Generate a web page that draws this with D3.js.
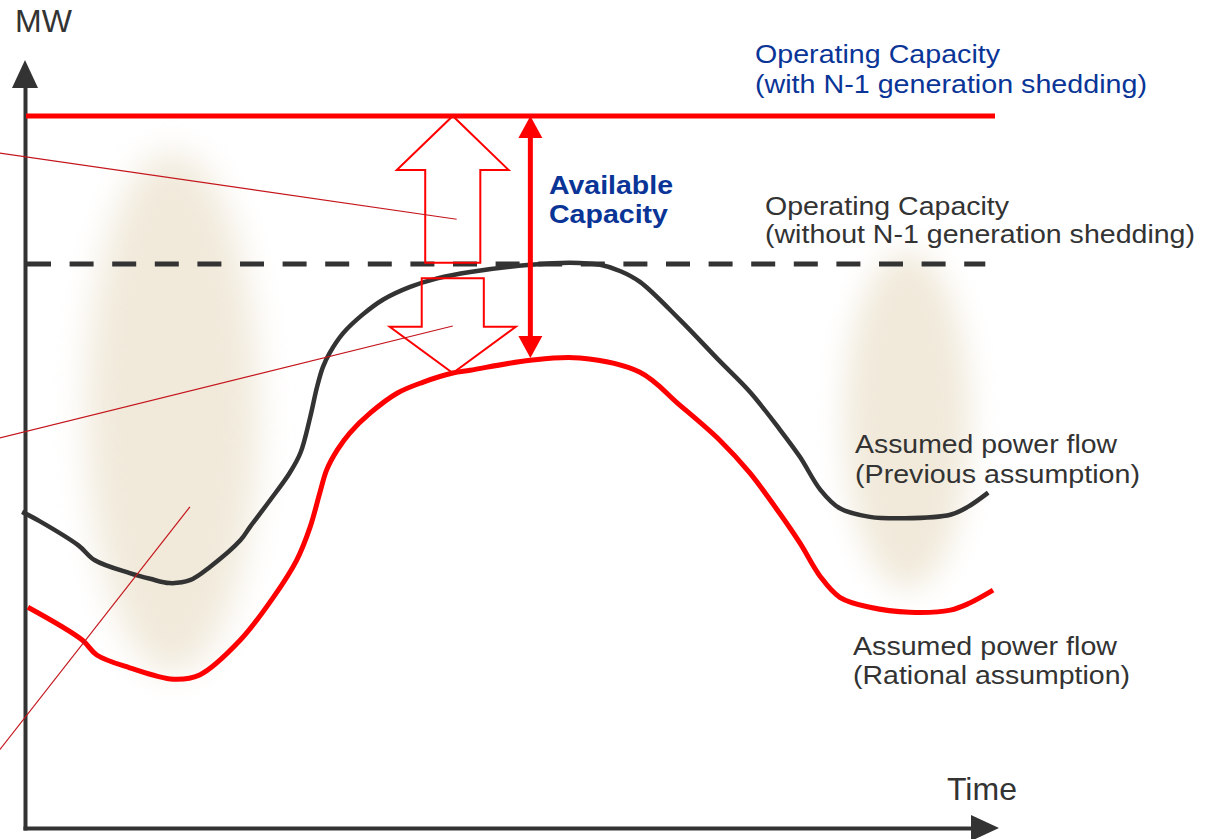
<!DOCTYPE html>
<html>
<head>
<meta charset="utf-8">
<script src="https://cdn.jsdelivr.net/npm/d3@7"></script>
<style>
  html, body { margin: 0; padding: 0; background: #fff; }
  svg { display: block; font-family: "Liberation Sans", Arial, sans-serif; }
</style>
</head>
<body>
<svg id="chart" width="1215" height="839"></svg>
<script>
// ---------------- DATA (time units 0..100, MW units 0..100) ----------------
const capacityWithN1 = 100;     // Operating capacity (with N-1 generation shedding)
const capacityWithoutN1 = 79.2; // Operating capacity (without N-1 generation shedding)

// Assumed power flow (Previous assumption)
const prevTime = [-0.3, 1.5, 5.5, 7.2, 10.8, 12.9, 14.9, 17.0, 19.1, 22.2, 23.2, 25.3, 27.3, 28.4, 29.4, 30.1, 30.7, 31.4, 32.8, 34.8, 36.9, 39.7, 42.5, 45.9, 52.1, 56.2, 59.3, 61.4, 63.4, 67.5, 71.6, 74.7, 77.8, 79.9, 82.0, 84.0, 87.1, 90.7, 95.4, 97.2, 99.3];
const prevMW   = [44.4, 43.1, 39.7, 37.6, 35.8, 35.0, 34.4, 34.8, 36.7, 40.4, 42.3, 46.1, 49.9, 52.7, 57.7, 61.9, 64.7, 66.7, 69.5, 72.1, 74.2, 76.0, 77.2, 78.1, 79.1, 79.4, 79.1, 78.2, 76.7, 71.4, 65.6, 61.3, 56.0, 52.1, 47.5, 44.9, 43.7, 43.5, 44.0, 45.1, 47.1];

// Assumed power flow (Rational assumption)
const ratTime = [0.3, 5.9, 7.4, 10.8, 15.3, 18.0, 22.2, 25.6, 28.0, 29.4, 30.4, 31.1, 32.2, 33.5, 35.6, 38.4, 41.0, 44.1, 45.9, 52.1, 57.2, 63.4, 67.5, 71.6, 74.7, 77.8, 79.9, 82.0, 84.0, 87.1, 91.2, 95.4, 97.4, 99.8];
const ratMW   = [31.0, 26.4, 24.3, 22.5, 20.9, 21.5, 26.4, 32.4, 37.6, 42.3, 47.1, 50.3, 53.1, 55.5, 58.3, 61.1, 62.6, 63.9, 64.3, 65.7, 66.0, 64.0, 59.4, 54.5, 49.9, 44.2, 40.0, 35.3, 32.4, 31.0, 30.3, 30.6, 31.6, 33.4];

// Shaded (low-load) periods: time start/end, MW low/high
const shadeStart = [5.7, 84.0];
const shadeEnd   = [24.7, 97.9];
const shadeLow   = [19.4, 32.0];
const shadeHigh  = [97.3, 82.6];

// Leader lines (from off-chart labels): start/end in time & MW
const leaderT0 = [-2.6, -2.6, -2.6];
const leaderM0 = [94.8, 54.8, 11.0];
const leaderT1 = [44.5, 44.1, 17.0];
const leaderM1 = [85.5, 70.5, 45.1];

// Hollow arrows: centre time, base MW, head-base MW, tip MW, shaft half-width, head half-width (time units)
const arrowCenter   = [44.1, 44.1];
const arrowBase     = [79.4, 77.2];
const arrowHeadBase = [92.4, 70.4];
const arrowTip      = [100.0, 63.9];
const arrowShaftHW  = [2.84, 3.2];
const arrowHeadHW   = [5.77, 6.5];

// Available capacity double arrow
const availTime = 52.1;
const availTop = 100;
const availBottom = 66.0;

// Text labels
const axisYLabel = "MW";
const axisXLabel = "Time";
const labelN1 = ["Operating Capacity", "(with N-1 generation shedding)"];
const labelNoN1 = ["Operating Capacity", "(without N-1 generation shedding)"];
const labelAvail = ["Available", "Capacity"];
const labelPrev = ["Assumed power flow", "(Previous assumption)"];
const labelRat = ["Assumed power flow", "(Rational assumption)"];

// ---------------- DRAWING ----------------
const svg = d3.select("#chart");
const x = d3.scaleLinear().domain([0, 100]).range([25, 995]);
const y = d3.scaleLinear().domain([0, 100]).range([828, 116]);

const defs = svg.append("defs");
[["blurL", 17], ["blurR", 15]].forEach(([id, sd]) => {
  defs.append("filter").attr("id", id).attr("x", "-50%").attr("y", "-50%").attr("width", "200%").attr("height", "200%")
    .attr("color-interpolation-filters", "sRGB")
    .append("feGaussianBlur").attr("stdDeviation", sd);
});

// shaded blobs
shadeStart.forEach((s, i) => {
  const cx = (x(s) + x(shadeEnd[i])) / 2;
  const cy = (y(shadeLow[i]) + y(shadeHigh[i])) / 2;
  const rx = (x(shadeEnd[i]) - x(s)) / 2;
  const ry = (y(shadeLow[i]) - y(shadeHigh[i])) / 2;
  svg.append("ellipse")
    .attr("cx", cx).attr("cy", cy)
    .attr("rx", rx * 0.93).attr("ry", ry * 0.94)
    .attr("fill", "#f1eadb")
    .attr("filter", i === 0 ? "url(#blurL)" : "url(#blurR)");
});

// axes (drawn with d3 axis generators, no ticks)
const xAxisScale = x.copy().range([25, 972]);
const yAxisScale = y.copy().range([828, 87]);
const gx = svg.append("g").attr("transform", `translate(0,${828})`)
  .call(d3.axisBottom(xAxisScale).tickValues([]).tickSizeOuter(0));
const gy = svg.append("g").attr("transform", `translate(${25},0)`)
  .call(d3.axisLeft(yAxisScale).tickValues([]).tickSizeOuter(0));
[gx, gy].forEach(g => g.select(".domain").attr("stroke", "#333").attr("stroke-width", 4).attr("stroke-linecap", "square"));
// arrowheads
svg.append("polygon").attr("fill", "#333")
  .attr("points", `${25},${60} ${12},${88} ${38},${88}`);
svg.append("polygon").attr("fill", "#333")
  .attr("points", `${999},${828} ${971},${815} ${971},${841}`);

// capacity lines
svg.append("line")
  .attr("x1", x(0) + 1).attr("x2", x(100))
  .attr("y1", y(capacityWithN1)).attr("y2", y(capacityWithN1))
  .attr("stroke", "#ff0000").attr("stroke-width", 5);
svg.append("line")
  .attr("x1", x(0) + 2).attr("x2", x(99))
  .attr("y1", y(capacityWithoutN1)).attr("y2", y(capacityWithoutN1))
  .attr("stroke", "#333").attr("stroke-width", 5)
  .attr("stroke-dasharray", "24,18.6");

// curves
const line = d3.line().x(d => x(d[0])).y(d => y(d[1])).curve(d3.curveCatmullRom.alpha(0.5));
svg.append("path").datum(prevTime.map((t, i) => [t, prevMW[i]]))
  .attr("d", line).attr("fill", "none").attr("stroke", "#333").attr("stroke-width", 4.5);
svg.append("path").datum(ratTime.map((t, i) => [t, ratMW[i]]))
  .attr("d", line).attr("fill", "none").attr("stroke", "#ff0000").attr("stroke-width", 5);

// hollow arrows
arrowCenter.forEach((c, i) => {
  const pts = [
    [c - arrowShaftHW[i], arrowBase[i]],
    [c - arrowShaftHW[i], arrowHeadBase[i]],
    [c - arrowHeadHW[i], arrowHeadBase[i]],
    [c, arrowTip[i]],
    [c + arrowHeadHW[i], arrowHeadBase[i]],
    [c + arrowShaftHW[i], arrowHeadBase[i]],
    [c + arrowShaftHW[i], arrowBase[i]]
  ];
  svg.append("polygon")
    .attr("points", pts.map(p => `${x(p[0])},${y(p[1])}`).join(" "))
    .attr("fill", "none").attr("stroke", "#ff0000").attr("stroke-width", 2);
});

// leader lines
leaderT0.forEach((t, i) => {
  svg.append("line")
    .attr("x1", x(t)).attr("y1", y(leaderM0[i]))
    .attr("x2", x(leaderT1[i])).attr("y2", y(leaderM1[i]))
    .attr("stroke", "#c4161c").attr("stroke-width", 1.2);
});

// available capacity double arrow
const ax = x(availTime), aTop = y(availTop), aBot = y(availBottom);
const headLen = 22, headHW = 12;
svg.append("line").attr("x1", ax).attr("x2", ax)
  .attr("y1", aTop + headLen - 2).attr("y2", aBot - headLen + 2)
  .attr("stroke", "#ff0000").attr("stroke-width", 5);
svg.append("polygon").attr("fill", "#ff0000")
  .attr("points", `${ax},${aTop} ${ax - headHW},${aTop + headLen} ${ax + headHW},${aTop + headLen}`);
svg.append("polygon").attr("fill", "#ff0000")
  .attr("points", `${ax},${aBot} ${ax - headHW},${aBot - headLen} ${ax + headHW},${aBot - headLen}`);

// text helper
function addText(str, px, py, opts) {
  const t = svg.append("text").attr("x", px).attr("y", py).text(str)
    .attr("font-size", opts.size).attr("fill", opts.color)
    .attr("font-weight", opts.weight || "normal");
  if (opts.len) t.attr("textLength", opts.len).attr("lengthAdjust", "spacingAndGlyphs");
  return t;
}
const BLUE = "#0a3597", GREY = "#333";
addText(axisYLabel, 15, 32, { size: 32, color: GREY });
addText(axisXLabel, 947, 800, { size: 32, color: GREY });
addText(labelN1[0], 755, 63, { size: 26, color: BLUE, len: 245 });
addText(labelN1[1], 755, 93, { size: 26, color: BLUE, len: 392 });
addText(labelNoN1[0], 765, 215, { size: 26, color: GREY, len: 244 });
addText(labelNoN1[1], 765, 243, { size: 26, color: GREY, len: 430 });
addText(labelAvail[0], 549, 194, { size: 26, color: BLUE, weight: "bold", len: 124 });
addText(labelAvail[1], 549, 223, { size: 26, color: BLUE, weight: "bold", len: 119 });
addText(labelPrev[0], 855, 453, { size: 26, color: GREY, len: 262 });
addText(labelPrev[1], 855, 483, { size: 26, color: GREY, len: 285 });
addText(labelRat[0], 853, 655, { size: 26, color: GREY, len: 264 });
addText(labelRat[1], 853, 684, { size: 26, color: GREY, len: 277 });
</script>
</body>
</html>
